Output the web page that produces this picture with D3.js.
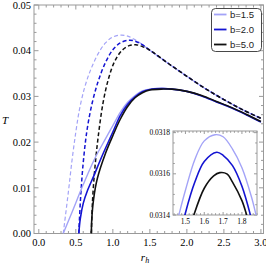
<!DOCTYPE html>
<html>
<head>
<meta charset="utf-8">
<script src="https://cdn.jsdelivr.net/npm/d3@7"></script>
<style>
  body { margin: 0; background: #fff; }
  svg { display: block; }
</style>
</head>
<body>
<svg id="chart" width="266" height="265"></svg>
<script>
// data: [r_h, T]
const solid15 = [[0.33, 0], [0.45, 0.0047], [0.6, 0.0107], [0.75, 0.0162], [0.9, 0.0207], [1.0, 0.0236], [1.1, 0.0265], [1.2, 0.0287], [1.3, 0.0302], [1.4, 0.0312], [1.5, 0.0316], [1.657, 0.03179], [1.8, 0.0316], [2.0, 0.0311], [2.2, 0.0301], [2.4, 0.0288], [2.6, 0.0275], [2.8, 0.0260], [3.0, 0.0244]];
const solid20 = [[0.54, 0], [0.56, 0.0032], [0.6, 0.0066], [0.66, 0.0095], [0.74, 0.0125], [0.85, 0.0168], [1.0, 0.0222], [1.1, 0.0258], [1.2, 0.0283], [1.3, 0.0299], [1.4, 0.0310], [1.5, 0.0315], [1.666, 0.031705], [1.8, 0.0316], [2.0, 0.0311], [2.2, 0.0301], [2.4, 0.0288], [2.6, 0.0275], [2.8, 0.0260], [3.0, 0.0244]];
const solid50 = [[0.71, 0], [0.715, 0.003], [0.74, 0.0075], [0.79, 0.012], [0.9, 0.0175], [1.0, 0.0214], [1.1, 0.0250], [1.2, 0.0278], [1.3, 0.0297], [1.4, 0.0308], [1.5, 0.0314], [1.683, 0.031606], [1.8, 0.0316], [2.0, 0.0311], [2.2, 0.0302], [2.4, 0.0289], [2.6, 0.0276], [2.8, 0.0261], [3.0, 0.0245]];

const dash15 = [[0.33, 0], [0.4, 0.0092], [0.45, 0.0162], [0.5, 0.0222], [0.55, 0.0272], [0.62, 0.0320], [0.7, 0.0358], [0.8, 0.0393], [0.9, 0.0417], [1.0, 0.0430], [1.11, 0.0434], [1.2, 0.0432], [1.3, 0.0424], [1.4, 0.0413], [1.5, 0.0401], [1.75, 0.0372], [2.0, 0.0344], [2.25, 0.0317], [2.5, 0.0293], [2.75, 0.0271], [3.0, 0.0252]];
const dash20 = [[0.54, 0], [0.565, 0.008], [0.6, 0.0155], [0.65, 0.0225], [0.72, 0.0285], [0.8, 0.0332], [0.9, 0.0374], [1.0, 0.0402], [1.1, 0.0417], [1.22, 0.0423], [1.3, 0.0421], [1.4, 0.0413], [1.5, 0.0401], [1.75, 0.0372], [2.0, 0.0344], [2.25, 0.0317], [2.5, 0.0293], [2.75, 0.0271], [3.0, 0.0252]];
const dash50 = [[0.71, 0], [0.725, 0.007], [0.76, 0.0148], [0.81, 0.0222], [0.87, 0.0288], [0.94, 0.0338], [1.02, 0.0375], [1.12, 0.0400], [1.22, 0.0411], [1.31, 0.0413], [1.4, 0.0409], [1.5, 0.0401], [1.75, 0.0372], [2.0, 0.0344], [2.25, 0.0317], [2.5, 0.0293], [2.75, 0.0271], [3.0, 0.0252]];

// inset, zoom on the maxima of the solid curves
const inset15 = [[1.44, 0.03131], [1.465, 0.0314], [1.5, 0.03152], [1.55, 0.03167], [1.6, 0.03176], [1.657, 0.03179], [1.7, 0.03178], [1.75, 0.03172], [1.8, 0.03163], [1.85, 0.03149], [1.875, 0.0314], [1.9, 0.0313]];
const inset20 = [[1.48, 0.03133], [1.5, 0.03141], [1.55, 0.03156], [1.6, 0.03166], [1.666, 0.031705], [1.7, 0.03169], [1.75, 0.03164], [1.8, 0.03154], [1.845, 0.0314], [1.86, 0.03134]];
const inset50 = [[1.53, 0.03135], [1.545, 0.0314], [1.6, 0.03153], [1.65, 0.03159], [1.683, 0.031606], [1.72, 0.0316], [1.75, 0.03156], [1.8, 0.03147], [1.825, 0.0314], [1.84, 0.03135]];

const labels = ['b=1.5', 'b=2.0', 'b=5.0'];
const colors = ['#a3a3f7', '#1414d2', '#111111'];
const xTicks = [0.0, 0.5, 1.0, 1.5, 2.0, 2.5, 3.0];
const yTicks = [0.00, 0.01, 0.02, 0.03, 0.04, 0.05];
const insetXTicks = [1.5, 1.6, 1.7, 1.8];
const insetYTicks = [0.0314, 0.0316, 0.0318];

const svg = d3.select('#chart');
const frameColor = '#9a9a9a';
const serif = "'Liberation Serif', 'DejaVu Serif', serif";

// main plot area
const x = d3.scaleLinear().domain([-0.065, 3.035]).range([34, 263.5]);
const y = d3.scaleLinear().domain([0, 0.05]).range([233.5, 5]);

function frame(g, xs, ys, xt, yt, xMinor, yMinor, majorLen, minorLen) {
  const [x0, x1] = xs.range();
  const [y0, y1] = ys.range();
  g.append('rect')
    .attr('x', x0).attr('y', y1)
    .attr('width', x1 - x0).attr('height', y0 - y1)
    .attr('fill', 'none').attr('stroke', frameColor).attr('stroke-width', 1);
  const ticks = [];
  xMinor.forEach((v) => ticks.push({ v, major: xt.some((t) => Math.abs(t - v) < 1e-9), axis: 'x' }));
  yMinor.forEach((v) => ticks.push({ v, major: yt.some((t) => Math.abs(t - v) < 1e-9), axis: 'y' }));
  ticks.forEach((t) => {
    const len = t.major ? majorLen : minorLen;
    if (t.axis === 'x') {
      const px = xs(t.v);
      if (px < x0 || px > x1) return;
      g.append('line').attr('x1', px).attr('x2', px).attr('y1', y0).attr('y2', y0 - len)
        .attr('stroke', frameColor);
      g.append('line').attr('x1', px).attr('x2', px).attr('y1', y1).attr('y2', y1 + len)
        .attr('stroke', frameColor);
    } else {
      const py = ys(t.v);
      if (py > y0 + 0.1 || py < y1 - 0.1) return;
      g.append('line').attr('x1', x0).attr('x2', x0 + len).attr('y1', py).attr('y2', py)
        .attr('stroke', frameColor);
      g.append('line').attr('x1', x1).attr('x2', x1 - len).attr('y1', py).attr('y2', py)
        .attr('stroke', frameColor);
    }
  });
}

const main = svg.append('g');
frame(main, x, y, xTicks, yTicks,
  d3.range(0, 3.05, 0.1).map((v) => +v.toFixed(2)),
  d3.range(0, 0.0505, 0.002).map((v) => +v.toFixed(4)),
  4.5, 2.5);

main.selectAll('.xl').data(xTicks).enter().append('text')
  .attr('x', (d) => x(d)).attr('y', 246)
  .attr('text-anchor', 'middle')
  .style('font-family', serif).style('font-size', '10.5px')
  .text((d) => d.toFixed(1));

main.selectAll('.yl').data(yTicks).enter().append('text')
  .attr('x', 31).attr('y', (d) => y(d) + 3.7)
  .attr('text-anchor', 'end')
  .style('font-family', serif).style('font-size', '10.5px')
  .text((d) => d.toFixed(2));

svg.append('text').attr('x', 5).attr('y', 124)
  .attr('text-anchor', 'middle')
  .style('font-family', serif).style('font-size', '11px').style('font-style', 'italic')
  .text('T');

const rl = svg.append('text').attr('x', 145).attr('y', 261)
  .attr('text-anchor', 'middle')
  .style('font-family', serif).style('font-size', '11px').style('font-style', 'italic');
rl.append('tspan').text('r');
rl.append('tspan').attr('dy', 2).style('font-size', '8px').text('h');

svg.append('clipPath').attr('id', 'clipMain').append('rect')
  .attr('x', 34).attr('y', 5).attr('width', 229.5).attr('height', 228.5);

const line = d3.line().x((d) => x(d[0])).y((d) => y(d[1])).curve(d3.curveCatmullRom.alpha(0.5));

const curves = main.append('g').attr('clip-path', 'url(#clipMain)');
[dash15, dash20, dash50].forEach((data, i) => {
  curves.append('path').datum(data).attr('d', line)
    .attr('fill', 'none').attr('stroke', colors[i])
    .attr('stroke-width', i === 0 ? 1.2 : 1.5)
    .attr('stroke-dasharray', '4,2.5');
});
[solid15, solid20, solid50].forEach((data, i) => {
  curves.append('path').datum(data).attr('d', line)
    .attr('fill', 'none').attr('stroke', colors[i])
    .attr('stroke-width', i === 0 ? 1.4 : 1.6);
});

// legend
const legend = svg.append('g');
legend.append('rect').attr('x', 211.5).attr('y', 8.5).attr('width', 50).attr('height', 43)
  .attr('rx', 4).attr('fill', '#fff').attr('stroke', '#333').attr('stroke-width', 0.9);
labels.forEach((lab, i) => {
  const ly = 14.5 + i * 15;
  legend.append('line').attr('x1', 214).attr('x2', 226.5).attr('y1', ly).attr('y2', ly)
    .attr('stroke', colors[i]).attr('stroke-width', 1.8);
  legend.append('text').attr('x', 230).attr('y', ly + 3.4)
    .style('font-family', "'Liberation Sans', Arial, sans-serif").style('font-size', '9.5px')
    .attr('fill', '#222')
    .text(lab);
});

// inset
const ix = d3.scaleLinear().domain([1.434, 1.88]).range([173, 257]);
const iy = d3.scaleLinear().domain([0.0314, 0.031808]).range([215, 131]);
const inset = svg.append('g');
inset.append('rect').attr('x', 173).attr('y', 131).attr('width', 84).attr('height', 84).attr('fill', '#fff');
frame(inset, ix, iy, insetXTicks, insetYTicks,
  d3.range(1.44, 1.881, 0.02).map((v) => +v.toFixed(2)),
  d3.range(0.0314, 0.03181, 0.00005).map((v) => +v.toFixed(5)),
  3, 1.8);

inset.selectAll('.ixl').data(insetXTicks).enter().append('text')
  .attr('x', (d) => ix(d)).attr('y', 224)
  .attr('text-anchor', 'middle')
  .style('font-family', serif).style('font-size', '7.5px')
  .text((d) => d.toFixed(1));
inset.selectAll('.iyl').data(insetYTicks).enter().append('text')
  .attr('x', 170).attr('y', (d) => iy(d) + 2.6)
  .attr('text-anchor', 'end')
  .style('font-family', serif).style('font-size', '7.5px')
  .text((d) => d.toFixed(4));

svg.append('clipPath').attr('id', 'clipInset').append('rect')
  .attr('x', 173).attr('y', 131).attr('width', 84).attr('height', 84);
const iline = d3.line().x((d) => ix(d[0])).y((d) => iy(d[1])).curve(d3.curveCatmullRom.alpha(0.5));
const icurves = inset.append('g').attr('clip-path', 'url(#clipInset)');
[inset15, inset20, inset50].forEach((data, i) => {
  icurves.append('path').datum(data).attr('d', iline)
    .attr('fill', 'none').attr('stroke', colors[i])
    .attr('stroke-width', i === 0 ? 1.4 : 1.6);
});
</script>
</body>
</html>
